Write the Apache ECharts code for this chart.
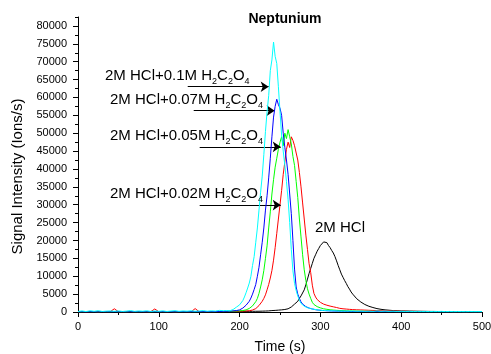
<!DOCTYPE html>
<html>
<head>
<meta charset="utf-8">
<script src="https://cdn.jsdelivr.net/npm/echarts@6/dist/echarts.min.js"></script>
<style>
  html, body { margin: 0; background: #fff; }
  #chart { width: 491px; height: 354px; }
</style>
</head>
<body>
<div id="chart"></div>
<script>
// elution time (s)
const time = [
  0, 5, 10, 15, 20, 25, 30, 35, 40, 45,
  50, 55, 60, 65, 70, 75, 80, 85, 90, 95,
  100, 105, 110, 115, 120, 125, 130, 135, 140, 145,
  150, 155, 160, 165, 170, 175, 180,
  182, 184, 186, 188, 190, 192, 194, 196, 198, 200,
  202, 204, 206, 208, 210, 212, 214, 216, 218, 220,
  222, 224, 226, 228, 230, 232, 234, 236, 238, 240,
  242, 244, 246, 248, 250, 252, 254, 256, 258, 260,
  262, 264, 266, 268, 270, 272, 274, 276, 278, 280,
  282, 284, 286, 288, 290, 292, 294, 296, 298, 300,
  302, 304, 306, 308, 310, 312, 314, 316, 318, 320,
  322, 324, 326, 328, 330, 332, 334, 336, 338, 340,
  345, 350, 355, 360, 365, 370, 375, 380, 385, 390,
  395, 400, 405, 410, 415, 420, 425, 430, 435, 440,
  445, 450, 455, 460, 465, 470, 475, 480, 485, 490, 495, 500
];

// 2M HCl (black)
const hcl = [
  20, 50, 10, 40, 30, 0, 60, 20, 40, 10,
  30, 50, 20, 40, 10, 60, 30, 20, 50, 30,
  40, 20, 50, 30, 60, 20, 40, 50, 30, 60,
  40, 70, 50, 80, 60, 90, 80,
  100, 90, 110, 100, 120, 110, 130, 120, 140, 150,
  140, 160, 150, 170, 160, 180, 170, 190, 180, 200,
  220, 210, 250, 240, 280, 270, 320, 310, 360, 400,
  380, 450, 430, 520, 500, 600, 580, 700, 750, 900,
  1100, 1400, 1800, 2200, 2600, 3000, 3800, 4500, 5000, 6200,
  7600, 9200, 10800, 12200, 13600, 15000, 16000, 17000, 17800, 18600,
  19000, 19600, 19300, 19400, 18600, 18000, 17200, 16500, 15500, 14300,
  13000, 11800, 10600, 9700, 8800, 8000, 7100, 6400, 5600, 5000,
  3700, 2800, 2100, 1600, 1250, 950, 750, 600, 500, 400,
  350, 300, 280, 250, 230, 200, 190, 170, 160, 150,
  140, 130, 120, 110, 110, 100, 90, 90, 80, 80, 70, 70
];

// 2M HCl + 0.02M H2C2O4 (red)
const ox002 = [
  60, 100, 40, 80, 120, 50, 90, 70, 110, 900,
  80, 50, 100, 70, 60, 110, 80, 50, 90, 850,
  70, 100, 60, 90, 50, 80, 110, 70, 60, 950,
  80, 110, 70, 100, 90, 120, 110,
  120, 130, 140, 150, 160, 170, 180, 190, 200, 210,
  220, 250, 270, 300, 320, 350, 420, 550, 700, 950,
  1300, 1800, 2300, 3000, 3800, 4800, 6200, 7700, 9500, 11600,
  14500, 18000, 22000, 26000, 30000, 34000, 38500, 42000, 45500, 47500,
  46000, 49000, 48000, 46500, 47000, 42500, 39000, 35000, 30500, 26000,
  21500, 17500, 13500, 11000, 7500, 5200, 4200, 3500, 3000, 2700,
  2450, 2200, 2050, 1900, 1750, 1650, 1550, 1450, 1350, 1250,
  1100, 1020, 950, 900, 860, 820, 780, 740, 700, 670,
  620, 580, 530, 480, 440, 400, 360, 330, 300, 280,
  260, 240, 220, 200, 190, 180, 170, 160, 150, 140,
  130, 120, 120, 110, 100, 100, 90, 90, 80, 80, 70, 70
];

// 2M HCl + 0.05M H2C2O4 (green)
const ox005 = [
  100, 60, 150, 80, 120, 50, 130, 90, 70, 140,
  80, 110, 60, 130, 90, 70, 120, 100, 60, 90,
  130, 70, 100, 140, 60, 110, 80, 120, 90, 70,
  110, 90, 130, 100, 120, 110, 140,
  150, 160, 150, 180, 200, 220, 250, 280, 300, 330,
  360, 400, 450, 600, 800, 1000, 1300, 1700, 2200, 2900,
  3800, 5200, 7000, 9000, 11600, 15000, 18500, 23500, 28000, 33000,
  37000, 40500, 43000, 45500, 47500, 49000, 46500, 50000, 48500, 51000,
  49000, 47000, 43500, 41000, 36500, 32000, 26000, 21000, 16000, 11800,
  8800, 6500, 5000, 3800, 2700, 2100, 1800, 1500, 1300, 1150,
  1000, 900, 820, 750, 680, 620, 580, 540, 500, 470,
  440, 410, 390, 370, 350, 330, 310, 300, 280, 270,
  250, 220, 200, 180, 160, 150, 140, 130, 120, 110,
  100, 100, 90, 90, 80, 80, 70, 70, 60, 60,
  60, 50, 50, 60, 40, 50, 40, 40, 50, 30, 40, 30
];

// 2M HCl + 0.07M H2C2O4 (blue)
const ox007 = [
  50, 80, 30, 100, 60, 40, 90, 70, 50, 80,
  60, 100, 40, 70, 90, 50, 80, 60, 100, 70,
  50, 90, 60, 80, 40, 100, 70, 60, 90, 80,
  100, 80, 120, 100, 130, 150, 180,
  190, 200, 220, 250, 280, 320, 350, 400, 450, 600,
  800, 1100, 1500, 1900, 2300, 3000, 3900, 5000, 6300, 7700,
  10000, 12500, 16000, 19500, 23500, 28500, 32500, 37500, 43000, 49000,
  54500, 57500, 59500, 58000, 57000, 55000, 50000, 46000, 42500, 38500,
  33000, 27500, 20000, 12000, 7000, 5000, 3800, 2800, 2200, 1800,
  1500, 1300, 1100, 950, 850, 750, 650, 580, 520, 470,
  430, 400, 380, 350, 330, 310, 290, 270, 260, 240,
  230, 220, 210, 200, 190, 180, 170, 160, 150, 150,
  140, 130, 120, 110, 100, 100, 90, 90, 80, 80,
  70, 70, 60, 60, 50, 50, 60, 40, 50, 40,
  40, 50, 30, 40, 30, 40, 30, 30, 40, 20, 30, 20
];

// 2M HCl + 0.1M H2C2O4 (cyan)
const ox01 = [
  150, 300, 120, 350, 200, 380, 150, 250, 300, 180,
  320, 150, 260, 400, 180, 300, 220, 350, 160, 280,
  200, 330, 150, 270, 380, 190, 300, 240, 350, 210,
  280, 400, 220, 330, 260, 450, 380,
  300, 420, 260, 360, 450, 700, 1000, 1350, 1700, 2000,
  2400, 3200, 4200, 5400, 6700, 8100, 10000, 13000, 15500, 19500,
  23500, 28500, 33500, 38000, 44000, 50500, 56000, 60500, 67500, 70500,
  75500, 71500, 69500, 63000, 56000, 49500, 45000, 41000, 36500, 31500,
  25000, 17500, 11500, 8000, 6000, 4500, 3300, 2400, 1900, 1600,
  1400, 1200, 1050, 950, 850, 750, 650, 600, 520, 480,
  450, 420, 400, 380, 360, 340, 320, 350, 300, 280,
  300, 260, 280, 250, 270, 230, 260, 240, 220, 250,
  200, 230, 180, 220, 170, 300, 200, 250, 180, 220,
  160, 200, 150, 190, 130, 180, 150, 170, 120, 160,
  140, 170, 120, 150, 110, 140, 130, 100, 150, 120, 130, 110
];

const yMajorTicks = [0, 5000, 10000, 15000, 20000, 25000, 30000, 35000, 40000,
  45000, 50000, 55000, 60000, 65000, 70000, 75000, 80000];
const yMinorTicks = [2500, 7500, 12500, 17500, 22500, 27500, 32500, 37500, 42500,
  47500, 52500, 57500, 62500, 67500, 72500, 77500, 82500];

// arrows: [fromTime, toTime, signal]
const arrows = [
  [135.8, 236, 63000],
  [143.2, 243.4, 56300],
  [150.6, 250.9, 46200],
  [150.6, 250.9, 29900]
];

const labelTexts = [
  '{m|2M HCl+0.1M H}{s|2}{m|C}{s|2}{m|O}{s|4}',
  '{m|2M HCl+0.07M H}{s|2}{m|C}{s|2}{m|O}{s|4}',
  '{m|2M HCl+0.05M H}{s|2}{m|C}{s|2}{m|O}{s|4}',
  '{m|2M HCl+0.02M H}{s|2}{m|C}{s|2}{m|O}{s|4}',
  '{m|2M HCl}'
];

const FONT = "'Liberation Sans', Arial, sans-serif";

const seriesDefs = [
  { name: "2M HCl", values: hcl, color: "#000000" },
  { name: "0.02M", values: ox002, color: "#ff0000" },
  { name: "0.05M", values: ox005, color: "#00ff00" },
  { name: "0.07M", values: ox007, color: "#0000ff" },
  { name: "0.1M", values: ox01, color: "#00ffff" },
];

const chart = echarts.init(document.getElementById("chart"), null, { renderer: "canvas" });

const series = seriesDefs.map((def, idx) => ({
  name: def.name,
  type: "line",
  data: time.map((t, i) => [t, def.values[i]]),
  showSymbol: false,
  symbol: "none",
  lineStyle: { width: 1, color: def.color },
  itemStyle: { color: def.color },
  z: 2 + idx,
  silent: true,
}));

// arrows pointing at each peak
series[0].markLine = {
  silent: true,
  symbol: ["none", "arrow"],
  symbolSize: 8,
  label: { show: false },
  lineStyle: { color: "#000", width: 1, type: "solid" },
  emphasis: { disabled: true },
  data: arrows.map(([t0, t1, v]) => [{ coord: [t0, v] }, { coord: [t1, v] }]),
};

const labelRich = {
  m: { fontSize: 15, fontFamily: FONT, color: "#000", verticalAlign: "bottom", padding: [0, 0, 3, 0] },
  s: { fontSize: 9, fontFamily: FONT, color: "#000", verticalAlign: "bottom" },
};
const labelPos = [[105, 68], [110, 92], [110, 128], [110, 186], [315, 220]];

const option = {
  animation: false,
  backgroundColor: "#fff",
  title: {
    text: "Neptunium",
    left: 280,
    top: 7,
    textAlign: "center",
    textStyle: { fontSize: 14, fontWeight: "bold", fontFamily: FONT, color: "#000" },
  },
  grid: { left: 78, right: 9, top: 17, bottom: 42, containLabel: false, outerBoundsMode: "none" },
  xAxis: {
    type: "value",
    min: 0,
    max: 500,
    interval: 100,
    name: "Time (s)",
    nameLocation: "middle",
    nameGap: 28,
    nameTextStyle: { fontSize: 14, fontFamily: FONT, color: "#000" },
    axisLine: { show: true, lineStyle: { color: "#000", width: 1 } },
    axisTick: { show: true, length: 5, lineStyle: { color: "#000" } },
    minorTick: { show: true, splitNumber: 2, length: 3, lineStyle: { color: "#000" } },
    splitLine: { show: false },
    axisLabel: { fontSize: 11, fontFamily: FONT, color: "#000", margin: 9 },
  },
  yAxis: [
    {
      type: "value",
      min: 0,
      max: 82500,
      interval: 2500,
      name: "Signal Intensity (Ions/s)",
      nameLocation: "middle",
      nameGap: 50,
      nameTextStyle: { fontSize: 15, fontFamily: FONT, color: "#000", padding: [0, 24, 0, 0] },
      axisLine: { show: true, lineStyle: { color: "#000", width: 1 } },
      axisTick: { show: true, length: 5, customValues: yMajorTicks, lineStyle: { color: "#000" } },
      axisLabel: {
        fontSize: 11, fontFamily: FONT, color: "#000", margin: 11,
        customValues: yMajorTicks,
        formatter: (v) => String(v),
      },
      splitLine: { show: false },
    },
    {
      type: "value",
      min: 0,
      max: 82500,
      interval: 2500,
      position: "left",
      axisLine: { show: false },
      axisTick: { show: true, length: 3, customValues: yMinorTicks, lineStyle: { color: "#000" } },
      axisLabel: { show: false },
      splitLine: { show: false },
    },
  ],
  graphic: labelTexts.map((txt, i) => ({
    type: "text",
    left: labelPos[i][0],
    top: labelPos[i][1],
    silent: true,
    z: 20,
    style: { text: txt, rich: labelRich, fill: "#000" },
  })),
  series: series,
};

chart.setOption(option);
</script>
</body>
</html>
